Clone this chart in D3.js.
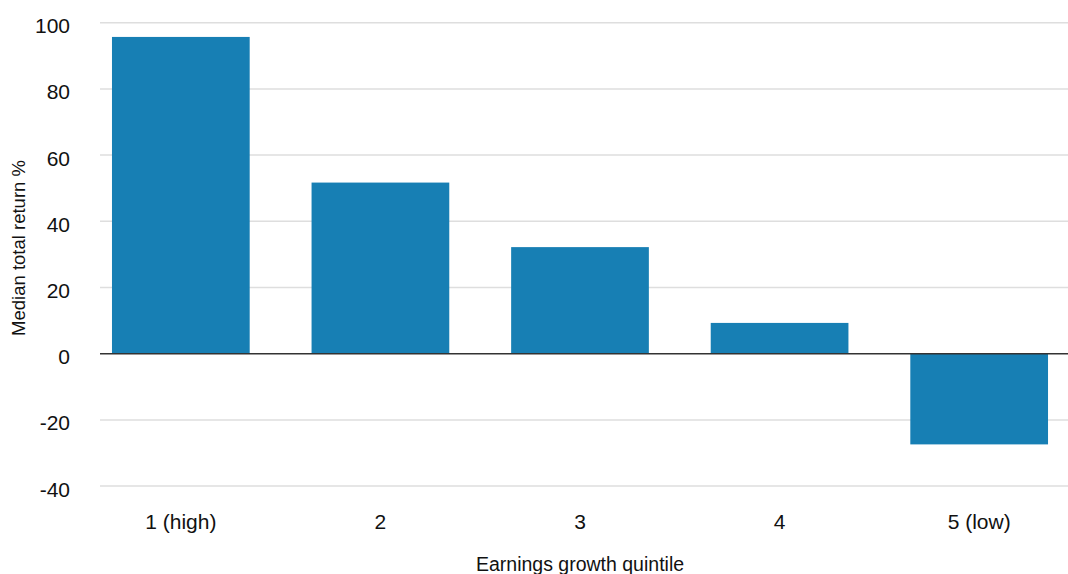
<!DOCTYPE html>
<html>
<head>
<meta charset="utf-8">
<script src="https://cdn.jsdelivr.net/npm/d3@7/dist/d3.min.js"></script>
<style>
  html, body { margin: 0; padding: 0; background: #fff; }
  svg { display: block; font-family: 'Liberation Sans', Arial, sans-serif; }
</style>
</head>
<body>
<svg id="chart" width="1068" height="574"></svg>
<script>
// data
let quintiles = ['1 (high)', '2', '3', '4', '5 (low)'];
let medianReturn = [95.7, 51.7, 32.2, 9.3, -27.4];
let yTicks = [-40, -20, 0, 20, 40, 60, 80, 100];

let width = 1068;
let barColor = '#177fb4';
let gridColor = '#dedede';

const svg = d3.select('#chart');

let x = d3.scaleBand()
  .domain(quintiles)
  .range([100, 1060])
  .paddingInner(0.31)
  .paddingOuter(0.06);

let y = d3.scaleLinear()
  .domain([-40, 100])
  .range([486.1, 22.7]);

// gridlines
svg.append('g')
  .attr('class', 'grid')
  .selectAll('line')
  .data(yTicks.filter(d => d !== 0))
  .enter()
  .append('line')
  .attr('x1', 100)
  .attr('x2', width)
  .attr('y1', d => y(d))
  .attr('y2', d => y(d))
  .style('stroke', gridColor)
  .style('stroke-width', 1.5);

// y tick labels
svg.append('g')
  .selectAll('text')
  .data(yTicks)
  .enter()
  .append('text')
  .attr('x', 70)
  .attr('y', d => y(d) + 10.5)
  .attr('text-anchor', 'end')
  .style('font-size', '21px')
  .style('fill', '#111')
  .text(d => d);

// bars
svg.append('g')
  .selectAll('rect')
  .data(medianReturn)
  .enter()
  .append('rect')
  .attr('x', (d, i) => x(quintiles[i]))
  .attr('y', d => y(Math.max(0, d)))
  .attr('width', x.bandwidth())
  .attr('height', d => Math.abs(y(d) - y(0)))
  .attr('fill', barColor);

// zero line
svg.append('line')
  .attr('x1', 100)
  .attr('x2', width)
  .attr('y1', y(0))
  .attr('y2', y(0))
  .style('stroke', '#333')
  .style('stroke-width', 1.5);

// x tick labels
svg.append('g')
  .selectAll('text')
  .data(quintiles)
  .enter()
  .append('text')
  .attr('x', d => x(d) + x.bandwidth() / 2)
  .attr('y', 529)
  .attr('text-anchor', 'middle')
  .style('font-size', '21px')
  .style('fill', '#111')
  .text(d => d);

// axis titles
svg.append('text')
  .attr('x', 580)
  .attr('y', 571)
  .attr('text-anchor', 'middle')
  .style('font-size', '19.5px')
  .style('fill', '#111')
  .text('Earnings growth quintile');

svg.append('text')
  .attr('transform', 'translate(25,' + 248 + ') rotate(-90)')
  .attr('text-anchor', 'middle')
  .style('font-size', '18.5px')
  .style('fill', '#111')
  .text('Median total return %');
</script>
</body>
</html>
